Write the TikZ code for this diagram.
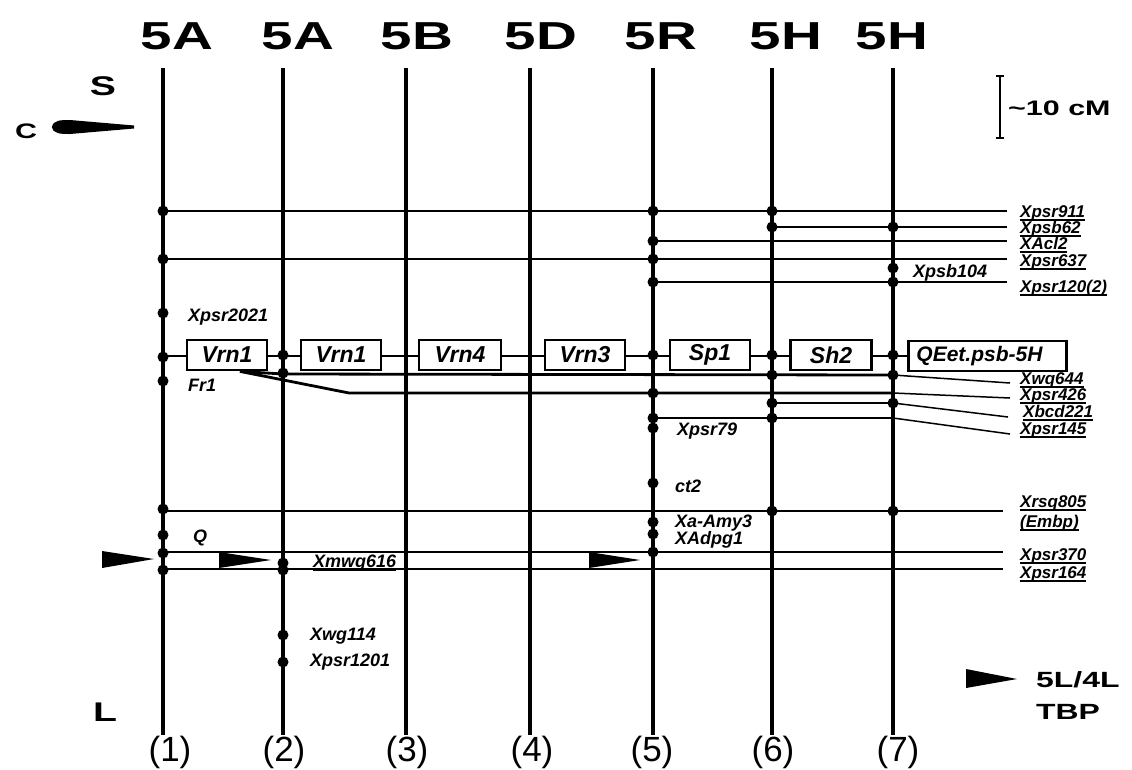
\documentclass[tikz,border=0pt]{standalone}
\usepackage{fontspec}
\setmainfont{Liberation Sans}
\usepackage{graphicx}
\newcommand{\ulx}[1]{\setbox0\hbox{#1}\leavevmode\rlap{\raisebox{-3.5pt}{\rule{\wd0}{1.8pt}}}\box0}
\newcommand{\wbold}[2]{{\fontsize{#1}{#1}\selectfont\bfseries\scalebox{1.45}[1]{#2}}}
\tikzset{
  chrom/.style={line width=4.5pt},
  link/.style={line width=2.8pt},
  lead/.style={line width=1.5pt},
  gbox/.style={draw, line width=2.8pt, fill=white, minimum height=30pt, inner sep=0pt,
    font=\fontsize{23}{24}\selectfont\bfseries\itshape},
  mk/.style={font=\fontsize{18}{19}\selectfont\bfseries\itshape, inner sep=0pt, anchor=west},
  rl/.style={font=\fontsize{17}{18}\selectfont\bfseries\itshape, inner sep=0pt, anchor=west},
  hd/.style={inner sep=0pt},
  num/.style={font=\fontsize{35}{36}\selectfont, inner sep=0pt},
  wedge/.style={fill=black},
}
\newcommand{\mkdot}[2]{\fill (#1,#2) circle (5.5pt);}
\begin{document}
\begin{tikzpicture}[x=1pt,y=-1pt]
\useasboundingbox (0,0) rectangle (1132,769);
\def\colA{163}\def\colB{283}\def\colC{406}\def\colD{530}\def\colE{653}\def\colF{772}\def\colG{893}
% headings
\node[hd] (h1) at (177,36) {\wbold{39}{5A}};
\node[hd] (h2) at (298,36) {\wbold{39}{5A}};
\node[hd] (h3) at (417,36) {\wbold{39}{5B}};
\node[hd] (h4) at (541,36) {\wbold{39}{5D}};
\node[hd] (h5) at (661,36) {\wbold{39}{5R}};
\node[hd] (h6) at (786,36) {\wbold{39}{5H}};
\node[hd] (h7) at (892,36) {\wbold{39}{5H}};
% chromosome lines
\foreach \x/\n in {\colA/1,\colB/2,\colC/3,\colD/4,\colE/5,\colF/6,\colG/7}{
  \coordinate (t\n) at (\x,68);
  \coordinate (b\n) at (\x,735);
  \draw[chrom] (t\n) -- (b\n);
}
% bottom numbers
\node[num] (n1) at (170,752) {(1)};
\node[num] (n2) at (284,752) {(2)};
\node[num] (n3) at (407,752) {(3)};
\node[num] (n4) at (532,752) {(4)};
\node[num] (n5) at (652,752) {(5)};
\node[num] (n6) at (773,752) {(6)};
\node[num] (n7) at (898,752) {(7)};
% S, C, L
\node[hd] (s) at (103,86) {\wbold{27}{S}};
\node[hd] (c) at (26,131) {\wbold{21}{C}};
\node[hd] (l) at (105,712) {\wbold{27}{L}};
\fill (52,127) .. controls (53,120) and (61,120) .. (70,120) -- (134,125.5) -- (134,128.5) -- (70,134) .. controls (61,134) and (53,134) .. (52,127) -- cycle;
% scale bar
\coordinate (sbt) at (1000,76); \coordinate (sbb) at (1000,138);
\draw[lead] (sbt) -- (sbb);
\draw[lead] ([xshift=-4pt]sbt) -- ([xshift=4pt]sbt);
\draw[lead] ([xshift=-4pt]sbb) -- ([xshift=4pt]sbb);
\node[hd, anchor=west] (cm) at (1008,108) {\wbold{21}{\textasciitilde10 cM}};
% 5L/4L TBP
\fill (966,669) -- (1017,679) -- (966,688) -- cycle;
\node[hd, anchor=west] (tl) at (1036,680) {\wbold{22}{5L/4L}};
\node[hd, anchor=west] (tbp) at (1036,712) {\wbold{22}{TBP}};
% upper horizontal lines
\draw[link] (\colA,211) -- (\colG,211); \draw[lead] (\colG,211) -- (1007,211);
\draw[link] (\colF,227) -- (\colG,227); \draw[lead] (\colG,227) -- (1007,227);
\draw[link] (\colE,241) -- (\colG,241); \draw[lead] (\colG,241) -- (1007,241);
\draw[link] (\colA,259) -- (\colG,259); \draw[lead] (\colG,259) -- (1007,259);
\draw[link] (\colE,282) -- (\colG,282); \draw[lead] (\colG,282) -- (1007,282);
% boxes row
\draw[link] (\colA,356) -- (907,356);
\node[gbox, minimum width=80pt] (v1) at (227,355) {Vrn1};
\node[gbox, minimum width=80pt] (v2) at (341,355) {Vrn1};
\node[gbox, minimum width=82pt] (v4) at (460,355) {Vrn4};
\node[gbox, minimum width=80pt] (v3) at (585,355) {Vrn3};
\node[gbox, minimum width=80pt] (sp) at (710,355) {Sp1};
\node[gbox, minimum width=81pt] (sh) at (831,355) {Sh2};
\node[gbox, anchor=west, inner xsep=8pt, text width=142pt, align=left, font=\fontsize{21}{22}\selectfont\bfseries\itshape] (qe) at (907,356) {QEet.psb-5H};
% lines below boxes
\draw[link] ([xshift=13pt]v1.south) -- (\colB,374) -- (\colG,375); \draw[lead] (\colG,375) -- (1010,383);
\draw[link] ([xshift=13pt]v1.south) -- (349,393) -- (\colG,393); \draw[lead] (\colG,393) -- (1010,398);
\draw[link] (\colF,403) -- (\colG,403); \draw[lead] (\colG,403) -- (1008,417);
\draw[link] (\colE,418) -- (\colG,418); \draw[lead] (\colG,418) -- (1010,434);
% lower lines
\draw[link] (\colA,511) -- (\colG,511); \draw[lead] (\colG,511) -- (1003,511);
\draw[link] (\colA,552) -- (\colG,552); \draw[lead] (\colG,552) -- (1003,552);
\draw[link] (\colA,569) -- (\colG,569); \draw[lead] (\colG,569) -- (1003,569);
% wedges
\fill[wedge] (102,551) -- (154,559) -- (102,568) -- cycle;
\fill[wedge] (219,552) -- (271,560) -- (219,568) -- cycle;
\fill[wedge] (589,552) -- (640,560) -- (589,568) -- cycle;
% dots
\foreach \y in {211,259,313,357,381,509,535,553,570} {\mkdot{\colA}{\y}}
\foreach \y in {355,373,563,570,635,662} {\mkdot{\colB}{\y}}
\foreach \y in {211,241,259,282,355,393,418,428,483,522,534,552} {\mkdot{\colE}{\y}}
\foreach \y in {211,227,355,375,403,418,511} {\mkdot{\colF}{\y}}
\foreach \y in {227,268,282,355,375,403,511} {\mkdot{\colG}{\y}}
% marker labels
\node[mk] (m2021) at (188,317) {Xpsr2021};
\node[mk] (mfr) at (188,385) {Fr1};
\node[mk] (mq) at (193,538) {Q};
\node[mk] (m79) at (677,431) {Xpsr79};
\node[mk] (mct) at (675,486) {ct2};
\node[mk] (mamy) at (675,523) {Xa-Amy3};
\node[mk] (madp) at (675,540) {XAdpg1};
\node[mk] (mmwg) at (313,563) {\ulx{Xmwg616}};
\node[mk] (mwg) at (310,636) {Xwg114};
\node[mk] (m1201) at (310,662) {Xpsr1201};
\node[mk] (m104) at (913,273) {Xpsb104};
% right labels
\node[rl] (r911) at (1020,213) {\ulx{Xpsr911}};
\node[rl] (r62) at (1020,229) {\ulx{Xpsb62}};
\node[rl] (racl) at (1020,245) {\ulx{XAcl2}};
\node[rl] (r637) at (1020,262) {\ulx{Xpsr637}};
\node[rl] (r120) at (1020,288) {\ulx{Xpsr120(2)}};
\node[rl] (r644) at (1020,380) {\ulx{Xwq644}};
\node[rl] (r426) at (1020,396) {\ulx{Xpsr426}};
\node[rl] (r221) at (1023,413) {\ulx{Xbcd221}};
\node[rl] (r145) at (1020,430) {\ulx{Xpsr145}};
\node[rl] (r805) at (1020,503) {\ulx{Xrsq805}};
\node[rl] (remb) at (1020,523) {\ulx{(Embp)}};
\node[rl] (r370) at (1020,556) {\ulx{Xpsr370}};
\node[rl] (r164) at (1020,574) {\ulx{Xpsr164}};
\end{tikzpicture}
\end{document}
